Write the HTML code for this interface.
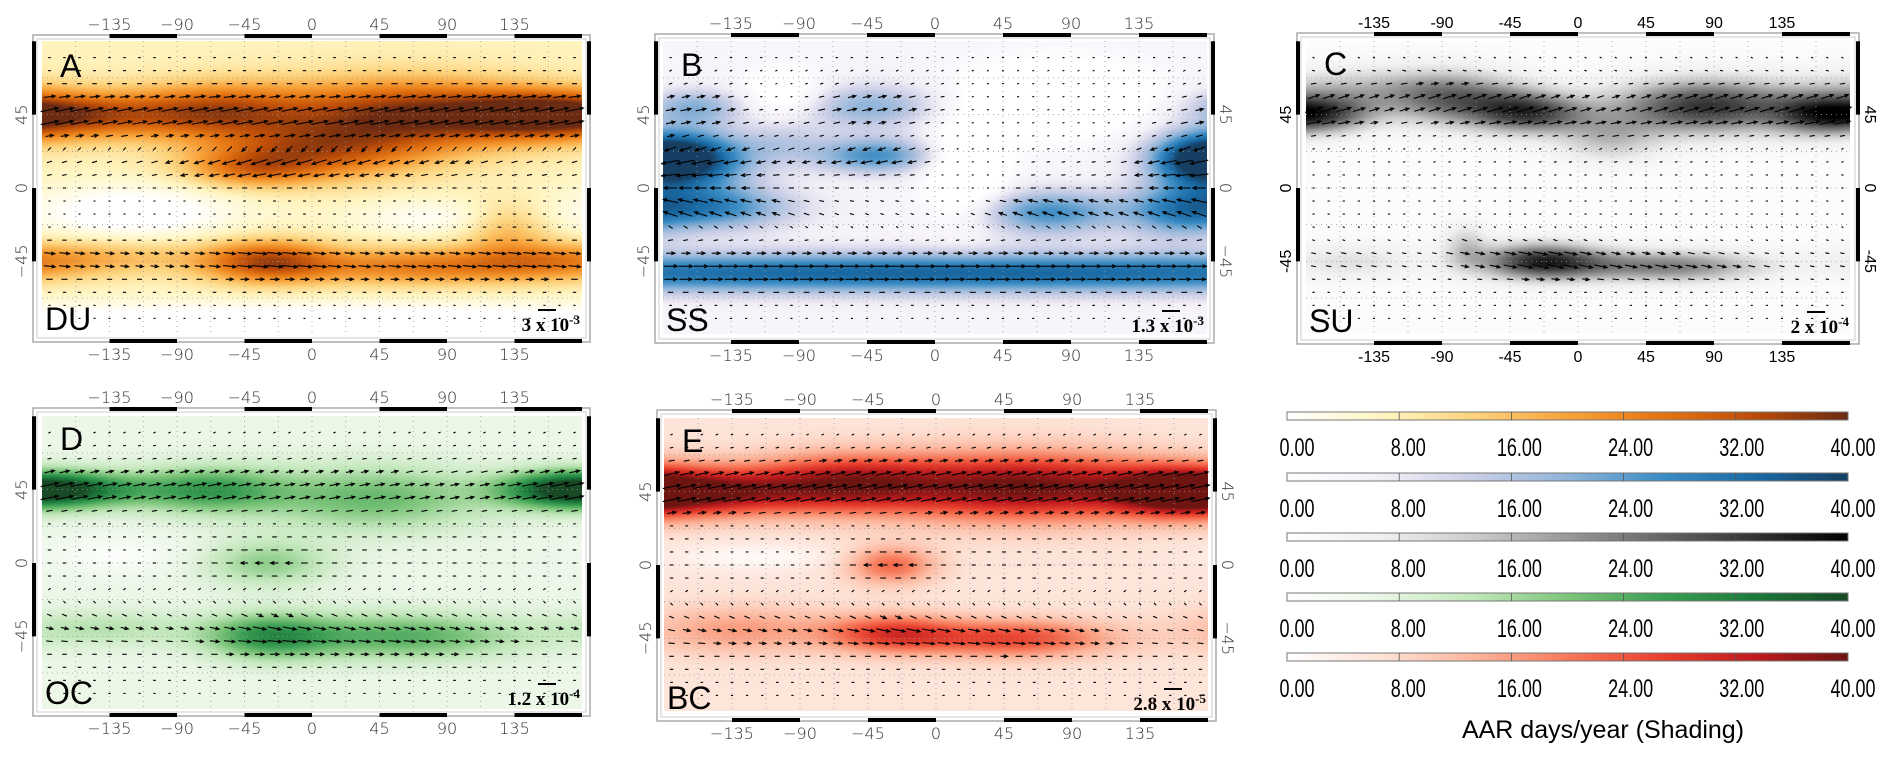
<!DOCTYPE html>
<html><head><meta charset="utf-8">
<style>
html,body{margin:0;padding:0;background:#fff;}
#root{position:relative;width:1893px;height:761px;overflow:hidden;background:#fff;}
canvas{position:absolute;}
svg{position:absolute;left:0;top:0;}
</style></head>
<body>
<div id="root">
<svg id="ov" width="1893" height="761"></svg>
</div>
<script>
// ---- data arrays ----
const LON_TICKS=[-135,-90,-45,0,45,90,135];
const LAT_TICKS=[45,0,-45];
const CB_TICKS=["0.00","8.00","16.00","24.00","32.00","40.00"];
const ARROW_LATS=[80,72,64,56,48,40,32,24,16,8,0,-8,-16,-24,-32,-40,-48,-56,-64,-72,-80];
// blobs: [lon, lat, sLon, sLat, amp]
const BLOBS_A=[[-150,45,60,10,0.55],[-60,48,40,12,0.45],[60,45,60,15,0.75],[150,45,40,10,0.55],[0,22,50,12,0.5],[-40,12,30,8,0.35],[-30,-45,30,9,0.6],[70,-48,60,8,0.45],[160,-45,40,8,0.3],[-130,-42,50,8,0.2],[130,-25,20,12,0.25],[-120,-15,50,12,-0.25],[80,-18,40,8,-0.15],[0,-85,400,10,-0.3]];
const BLOBS_B=[[-160,18,30,12,0.7],[175,18,25,12,0.7],[-150,-12,40,10,0.6],[-40,20,30,8,0.55],[-45,50,35,10,0.4],[-160,50,25,8,0.4],[75,-15,35,10,0.55],[160,-15,25,12,0.4],[0,-52,400,9,0.75],[-100,30,20,10,0.2],[20,10,18,22,-0.35],[80,55,40,15,-0.35],[-100,55,20,12,-0.25]];
const BLOBS_C=[[-165,45,22,8,0.55],[-85,55,30,12,0.55],[-40,48,25,10,0.5],[85,50,45,12,0.8],[160,45,22,9,0.6],[20,30,25,10,0.3],[-25,-45,30,8,0.8],[60,-48,45,7,0.55],[-150,-45,35,8,0.2],[-75,-35,10,10,0.25],[-150,60,40,10,0.3],[-20,45,25,8,0.3]];
const BLOBS_D=[[-160,45,35,8,0.6],[-70,45,35,10,0.5],[165,45,30,8,0.6],[40,40,55,14,0.4],[-30,0,30,10,0.3],[-30,-45,30,10,0.5],[60,-45,55,10,0.45],[-140,-40,45,8,0.2],[-130,5,30,8,-0.12]];
const BLOBS_E=[[-150,45,45,10,0.7],[-60,50,45,12,0.65],[60,48,65,14,0.85],[160,45,30,10,0.7],[-30,0,20,8,0.4],[-30,-42,30,8,0.5],[50,-45,45,8,0.5],[-130,-40,45,10,0.25],[-120,5,40,6,-0.12]];
const BG=[0.18,0.1,0.03,0.15,0.15];
const U_A=[0.2,0.3,0.5,0.8,1,1,0.6,-0.3,-1,-1,-0.6,-0.3,-0.3,0.3,0.6,1,1,0.8,0.5,0.2,0.1];
const U_B=[0.2,0.4,0.6,0.9,1,0.9,0.4,-0.6,-1,-1,-0.8,-0.9,-0.9,-0.3,0.6,1,1,0.9,0.6,0.3,0.1];
const U_C=[0.2,0.4,0.6,0.9,1,1,0.6,-0.2,-0.6,-0.6,-0.5,-0.5,-0.4,0.2,0.6,1,1,0.9,0.6,0.3,0.1];
const U_D=[0.2,0.4,0.6,0.9,1,1,0.6,-0.2,-0.6,-0.8,-0.8,-0.6,-0.3,0.3,0.7,1,1,0.9,0.6,0.3,0.1];
const U_E=[0.2,0.4,0.6,0.9,1,1,0.6,-0.2,-0.6,-0.8,-0.8,-0.6,-0.3,0.3,0.7,1,1,0.9,0.6,0.3,0.1];
const V_A=[0,0,0,0.1,0.2,0.2,0.1,-0.3,-0.3,-0.2,0,0,0,0,0,-0.1,-0.1,0,0,0,0];
const V_B=[0,0.2,0.2,0.2,0.2,0.2,0.1,-0.2,-0.2,-0.1,0,0.2,0.3,0.2,0.1,0,0,0,0,0,0];
const V_C=[-0.1,-0.1,0.1,0.3,0.3,0.2,0.1,-0.1,-0.1,0,0,0,0,-0.1,-0.2,-0.2,-0.2,-0.1,0,0,0];
const V_D=[0.1,0.1,0.1,0.2,0.2,0.2,0.1,0,0,0,0,0,-0.2,-0.3,-0.3,-0.2,-0.1,0,0,0,0];
const V_E=[0.1,0.1,0.1,0.2,0.2,0.2,0.1,0,0,0,0,0,-0.2,-0.3,-0.3,-0.2,-0.1,0,0,0,0];
const CMAPS={
 orange:["#ffffff","#fff6c4","#fdd37c","#f8a23a","#e57512","#bb4c08","#6b2a12"],
 blue:["#ffffff","#f3eff7","#c9cee6","#8fb4d9","#3b8dc5","#1a6aa5","#163f63"],
 gray:["#ffffff","#f0f0f0","#cccccc","#999999","#666666","#333333","#000000"],
 green:["#ffffff","#eaf6e6","#c0e6b9","#7dc57b","#3b9f53","#1b7a3b","#174a25"],
 red:["#ffffff","#fde2d6","#fcb59b","#f8795a","#e8402e","#c01b1e","#6e1512"]
};
const PANELS=[
 {id:"a",letter:"A",code:"DU",cmap:"orange",blobs:BLOBS_A,u:U_A,v:V_A,x0:312,sx:1.5,y0:188,ft:35,fb:342,fl:33,fr:590,lab:"thin",left:true,right:false,s:"3 x 10",e:"-3"},
 {id:"b",letter:"B",code:"SS",cmap:"blue",blobs:BLOBS_B,u:U_B,v:V_B,x0:935,sx:1.511,y0:188,ft:34,fb:343,fl:655,fr:1214,lab:"thin",left:true,right:true,s:"1.3 x 10",e:"-3"},
 {id:"c",letter:"C",code:"SU",cmap:"gray",blobs:BLOBS_C,u:U_C,v:V_C,x0:1578,sx:1.511,y0:188,ft:33,fb:344,fl:1297,fr:1859,lab:"reg",left:true,right:true,s:"2 x 10",e:"-4"},
 {id:"d",letter:"D",code:"OC",cmap:"green",blobs:BLOBS_D,u:U_D,v:V_D,x0:312,sx:1.5,y0:563,ft:408,fb:716,fl:33,fr:590,lab:"thin",left:true,right:false,s:"1.2 x 10",e:"-4"},
 {id:"e",letter:"E",code:"BC",cmap:"red",blobs:BLOBS_E,u:U_E,v:V_E,x0:936,sx:1.511,y0:565,ft:410,fb:721,fl:657,fr:1216,lab:"thin",left:true,right:true,s:"2.8 x 10",e:"-5"}
];
const SY=1.63;
const NS="http://www.w3.org/2000/svg";
const ov=document.getElementById('ov');
const root=document.getElementById('root');
function hex(h){return [parseInt(h.substr(1,2),16),parseInt(h.substr(3,2),16),parseInt(h.substr(5,2),16)];}
function cmapColor(name,t){const st=CMAPS[name];t=Math.max(0,Math.min(1,t));const f=t*(st.length-1);const i=Math.min(st.length-2,Math.floor(f));const r=f-i;const a=hex(st[i]),b=hex(st[i+1]);return [a[0]+(b[0]-a[0])*r,a[1]+(b[1]-a[1])*r,a[2]+(b[2]-a[2])*r];}
function field(p,lon,lat){let s=BG[PANELS.indexOf(p)];for(const bl of p.blobs){let d=lon-bl[0];while(d>180)d-=360;while(d<-180)d+=360;const dl=(lat-bl[1])/bl[3];s+=bl[4]*Math.exp(-0.5*((d/bl[2])**2+dl*dl));}return Math.max(0,Math.min(1,s));}
function mk(tag,attrs,parent){const e=document.createElementNS(NS,tag);for(const k in attrs)e.setAttribute(k,attrs[k]);(parent||ov).appendChild(e);return e;}
function txt(x,y,s,style,parent){const t=mk('text',{x:x,y:y},parent);t.setAttribute('style',style);t.textContent=s;return t;}

PANELS.forEach(p=>{
 const xOf=lon=>p.x0+lon*p.sx, yOf=lat=>p.y0-lat*SY;
 const ml=Math.round(xOf(-180)), mt=Math.round(yOf(90));
 const W=Math.round(360*p.sx), H=Math.round(180*SY);
 const cv=document.createElement('canvas');
 cv.width=W;cv.height=H;cv.style.left=ml+'px';cv.style.top=mt+'px';
 
 
 root.insertBefore(cv,ov);
 const ctx=cv.getContext('2d');const img=ctx.createImageData(W,H);
 for(let j=0;j<H;j++){const lat=90-j/SY;for(let i=0;i<W;i++){const lon=-180+i/p.sx;const c=cmapColor(p.cmap,field(p,lon,lat));const k=(j*W+i)*4;img.data[k]=c[0];img.data[k+1]=c[1];img.data[k+2]=c[2];img.data[k+3]=255;}}
 ctx.putImageData(img,0,0);
 const g=mk('g',{});
 
 
 for(let lon=-157.5;lon<180;lon+=22.5){mk('line',{x1:xOf(lon),x2:xOf(lon),y1:mt,y2:mt+H,stroke:'#999','stroke-width':0.8,'stroke-dasharray':'1 4'},g);}
 for(const lat of [67.5,45,22.5,0,-22.5,-45,-67.5]){mk('line',{x1:ml,x2:ml+W,y1:yOf(lat),y2:yOf(lat),stroke:'#999','stroke-width':0.8,'stroke-dasharray':'1 4'},g);}
 const ag=mk('g',{stroke:'#000','stroke-width':1.1,fill:'none'},g);
 
 
 ARROW_LATS.forEach((lat,li)=>{
  for(let lon=-175;lon<180;lon+=10){
   const f=field(p,lon,lat);const u=p.u[li],v=p.v[li];
   const L=Math.min(18,2+16*f*Math.sqrt(u*u+v*v));
   const n=Math.sqrt(u*u+v*v)||1;const dx=u/n*L,dy=-v/n*L;
   const x1=xOf(lon)-dx/2,y1=yOf(lat)-dy/2,x2=x1+dx,y2=y1+dy;
   mk('line',{x1:x1,y1:y1,x2:x2,y2:y2},ag);
   if(L>7){const ang=Math.atan2(dy,dx);const h=4;
    mk('polyline',{points:`${x2-h*Math.cos(ang-0.4)},${y2-h*Math.sin(ang-0.4)} ${x2},${y2} ${x2-h*Math.cos(ang+0.4)},${y2-h*Math.sin(ang+0.4)}`},ag);}
  }
 });
 mk('rect',{x:p.fl,y:p.ft,width:p.fr-p.fl,height:p.fb-p.ft,fill:'none',stroke:'#aaa','stroke-width':1.5},g);
 mk('rect',{x:p.fl+4,y:p.ft+4,width:p.fr-p.fl-8,height:p.fb-p.ft-8,fill:'none',stroke:'#ccc','stroke-width':1},g);
 for(const [a,b] of [[-135,-90],[-45,0],[45,90],[135,180]]){
  mk('line',{x1:xOf(a),x2:xOf(b),y1:p.ft+1,y2:p.ft+1,stroke:'#000','stroke-width':4},g);
  mk('line',{x1:xOf(a),x2:xOf(b),y1:p.fb-1,y2:p.fb-1,stroke:'#000','stroke-width':4},g);
 }
 for(const [a,b] of [[90,45],[0,-45]]){
  mk('line',{x1:p.fl+1,x2:p.fl+1,y1:Math.max(p.ft,yOf(a)),y2:yOf(b),stroke:'#000','stroke-width':4},g);
  mk('line',{x1:p.fr-1,x2:p.fr-1,y1:Math.max(p.ft,yOf(a)),y2:yOf(b),stroke:'#000','stroke-width':4},g);
 }
 const thin=p.lab==='thin';
 const st=thin?'font-family:"DejaVu Sans","Liberation Sans",sans-serif;font-weight:200;font-size:16px;fill:#333;text-anchor:middle':'font-family:"Liberation Sans",sans-serif;font-size:16px;fill:#000;text-anchor:middle';
 LON_TICKS.forEach(l=>{const s=thin?String(l).replace('-','\u2212'):String(l);
  const t1=txt(xOf(l),p.ft-5,s,st,g);
  const t2=txt(xOf(l),p.fb+18,s,st,g);});
 LAT_TICKS.forEach(l=>{const s=thin?String(l).replace('-','\u2212'):String(l);
  const lx=p.fl-6;const t=txt(0,0,s,st,g);t.setAttribute('transform',`translate(${lx},${yOf(l)}) rotate(-90)`);
  
  if(p.right){const rx=p.fr+6;const t2=txt(0,0,s,st,g);t2.setAttribute('transform',`translate(${rx},${yOf(l)}) rotate(90)`);
   }});
 const LS='font-family:"Liberation Sans","DejaVu Sans",sans-serif;font-size:32px;fill:#000';
 const lt=txt(ml+18,p.ft+42,p.letter,LS,g);
 const ct=txt(ml+3,p.fb-12,p.code,LS,g);
 const sg=mk('g',{},g);
 const stt=mk('text',{x:p.fr-10,y:p.fb-11},sg);stt.setAttribute('style','font-family:"Liberation Serif",serif;font-weight:bold;font-size:19px;fill:#000;text-anchor:end');
 const t1=mk('tspan',{},stt);t1.textContent=p.s;const t2=mk('tspan',{dy:-7,'font-size':13},stt);t2.textContent=p.e;
 mk('line',{x1:p.fr-52,x2:p.fr-34,y1:p.fb-32,y2:p.fb-32,stroke:'#000','stroke-width':2},sg);
});

const cbNames=['orange','blue','gray','green','red'];
const CB_X0=1287,CB_X1=1848,CB_Y=[412,473,533,593,653];
const defs=mk('defs',{});
cbNames.forEach((n,i)=>{
 const lg=mk('linearGradient',{id:'g'+n,x1:0,x2:1,y1:0,y2:0},defs);
 CMAPS[n].forEach((c,k)=>mk('stop',{offset:k/(CMAPS[n].length-1),'stop-color':c},lg));
 const cg=mk('g',{});
 mk('rect',{x:CB_X0,y:CB_Y[i],width:CB_X1-CB_X0,height:8,fill:`url(#g${n})`,stroke:'#777','stroke-width':1},cg);
 CB_TICKS.forEach((s,k)=>{const x=CB_X0+10+k*(CB_X1-CB_X0-5)/5;
  if(k>0&&k<5)mk('line',{x1:CB_X0+k*(CB_X1-CB_X0)/5,x2:CB_X0+k*(CB_X1-CB_X0)/5,y1:CB_Y[i],y2:CB_Y[i]+8,stroke:'#555','stroke-width':0.8},cg);
  const t=txt(0,0,s,'font-family:"Liberation Sans",sans-serif;font-size:25px;fill:#000;text-anchor:middle',cg);
  t.setAttribute('transform',`translate(${x},${CB_Y[i]+44}) scale(0.72,1)`);
  });
});
const ttl=txt(1603,738,'AAR days/year (Shading)','font-family:"Liberation Sans","DejaVu Sans",sans-serif;font-size:25px;fill:#000;text-anchor:middle');

</script>
</body></html>
